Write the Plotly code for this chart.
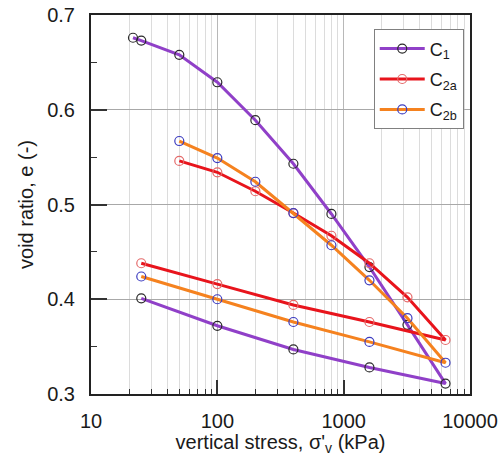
import plotly.graph_objects as go

# Oedometer results: vertical effective stress (kPa) vs void ratio
stress_c1 = [21.5, 25, 50, 100, 200, 400, 800, 1600, 3200, 6400, 1600, 400, 100, 25]
void_c1 = [0.676, 0.673, 0.658, 0.629, 0.589, 0.543, 0.490, 0.434, 0.373, 0.311,
           0.328, 0.347, 0.372, 0.401]

stress_c2 = [50, 100, 200, 400, 800, 1600, 3200, 6400, 1600, 400, 100, 25]
void_c2a = [0.546, 0.534, 0.514, 0.491, 0.467, 0.438, 0.402, 0.357,
            0.376, 0.394, 0.416, 0.438]
void_c2b = [0.567, 0.549, 0.524, 0.491, 0.457, 0.420, 0.380, 0.333,
            0.355, 0.376, 0.400, 0.424]

x_ticks = [10, 100, 1000, 10000]
x_minor = [m * d for d in (10, 100, 1000) for m in range(2, 10)]
y_ticks = [0.3, 0.4, 0.5, 0.6, 0.7]
y_labels = ["0.3", "0.4", "0.5", "0.6", "0.7"]
y_minor = [0.35, 0.45, 0.55, 0.65]

FONT = "Arial, Liberation Sans, sans-serif"

series = [
    ("C<sub>1</sub>", stress_c1, void_c1, "#9040c8", "#2a2a2a"),
    ("C<sub>2a</sub>", stress_c2, void_c2a, "#e8141c", "#e46a6a"),
    ("C<sub>2b</sub>", stress_c2, void_c2b, "#f5821f", "#3c3cc0"),
]

fig = go.Figure()
for i, (name, xs, ys, line_col, mark_col) in enumerate(series):
    fig.add_trace(go.Scatter(
        x=xs, y=ys, name=name, mode="lines+markers", legendgroup=f"g{i}",
        line=dict(color=line_col, width=3),
        marker=dict(symbol="circle-open", size=9, color=mark_col,
                    line=dict(width=1.2, color=mark_col)),
    ))

fig.update_layout(
    width=502, height=456,
    margin=dict(l=91, r=32, t=15, b=62, autoexpand=False),
    paper_bgcolor="white", plot_bgcolor="white",
    font=dict(family=FONT, size=20, color="#1a1a1a"),
    showlegend=True,
    legend=dict(
        x=0.746, y=0.962, xanchor="left", yanchor="top",
        bgcolor="white", bordercolor="#808080", borderwidth=1,
        font=dict(family=FONT, size=18, color="#1a1a1a"),
        tracegroupgap=4, itemwidth=45,
    ),
)

fig.update_xaxes(
    type="log", range=[1, 4], automargin=False,
    tickmode="array", tickvals=x_ticks, ticktext=[str(v) for v in x_ticks],
    ticks="inside", ticklen=14, tickwidth=1.5, tickcolor="#333",
    showgrid=True, gridcolor="#b8b8b8", gridwidth=1,
    minor=dict(tickmode="array", tickvals=x_minor, ticks="inside", ticklen=5,
               tickwidth=1.2, tickcolor="#333",
               showgrid=True, gridcolor="#dcdcdc", gridwidth=1),
    showline=True, linecolor="#222", linewidth=2, mirror=True,
    tickfont=dict(size=20), zeroline=False,
    ticklabelstandoff=8,
    title=dict(text="vertical stress, σ'<sub>v</sub> (kPa)", font=dict(size=20), standoff=9),
)

fig.update_yaxes(
    range=[0.3, 0.7], automargin=False,
    tickmode="array", tickvals=y_ticks, ticktext=y_labels,
    ticks="inside", ticklen=16, tickwidth=1.5, tickcolor="#333",
    showgrid=True, gridcolor="#a8a8a8", gridwidth=1,
    minor=dict(tickmode="array", tickvals=y_minor, ticks="inside", ticklen=6,
               tickwidth=1.2, tickcolor="#333", showgrid=False),
    showline=True, linecolor="#222", linewidth=2, mirror=True,
    tickfont=dict(size=20), zeroline=False,
    ticklabelstandoff=10,
    title=dict(text="void ratio, e (-)", font=dict(size=20), standoff=8),
)

fig.write_html("out.html")
